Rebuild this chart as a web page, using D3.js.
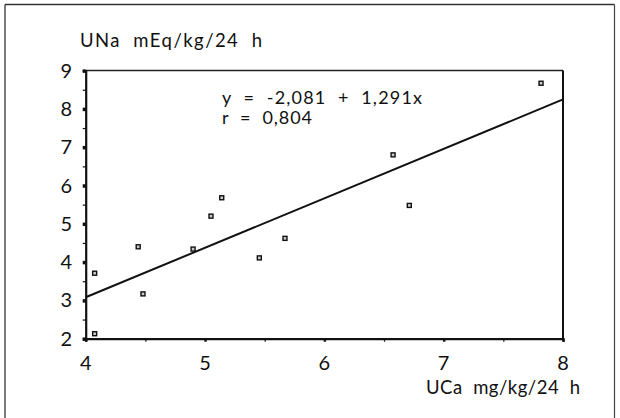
<!DOCTYPE html>
<html><head><meta charset="utf-8">
<script src="https://cdn.jsdelivr.net/npm/d3@7"></script>
<style>body{margin:0;background:#fff}svg{display:block}text{font-family:Lato,"Open Sans",sans-serif;fill:#111}</style>
</head><body><svg id="c" width="620" height="418"></svg>
<script>
const ucaValues = [4.075, 4.075, 4.44, 4.48, 4.90, 5.05, 5.14, 5.455, 5.67, 6.576, 6.712, 7.816];
const unaValues = [3.71, 2.13, 4.40, 3.17, 4.34, 5.20, 5.68, 4.11, 4.62, 6.80, 5.48, 8.67];
const xTicks = [4, 5, 6, 7, 8];
const yTicks = [2, 3, 4, 5, 6, 7, 8, 9];
const fitIntercept = -2.081, fitSlope = 1.291;
const eqLabel = "y = -2,081 + 1,291x", rLabel = "r = 0,804";
const yTitle = "UNa  mEq/kg/24  h", xTitle = "UCa  mg/kg/24  h";

const svg = d3.select("#c");
const x = d3.scaleLinear().domain([4, 8]).range([85.7, 563]);
const y = d3.scaleLinear().domain([2, 9]).range([338.7, 70.6]);

// outer frame
svg.append("line").attr("x1",5).attr("x2",5).attr("y1",4.5).attr("y2",418).attr("stroke","#333").attr("stroke-width",1.3);
svg.append("line").attr("x1",5).attr("x2",614.5).attr("y1",4.5).attr("y2",4.5).attr("stroke","#333").attr("stroke-width",1.3);
svg.append("line").attr("x1",614.5).attr("x2",614.5).attr("y1",4.5).attr("y2",418).attr("stroke","#444").attr("stroke-width",1.2);

// plot box
svg.append("line").attr("x1",x(4)).attr("x2",x(8)).attr("y1",y(9)).attr("y2",y(9)).attr("stroke","#222").attr("stroke-width",1.5);
svg.append("line").attr("x1",x(8)).attr("x2",x(8)).attr("y1",y(9)).attr("y2",y(2)).attr("stroke","#111").attr("stroke-width",2);

// axes
const xAxis = d3.axisBottom(x).tickValues(d3.range(4, 8.01, 0.5)).tickSize(3).tickFormat("");
const gx = svg.append("g").attr("transform",`translate(0,${y(2)})`).call(xAxis);
gx.select(".domain").attr("stroke","#111").attr("stroke-width",2.2);
gx.selectAll(".tick line").attr("stroke","#111").attr("stroke-width",d=>Number.isInteger(d)?2.5:1.2);
const yAxis = d3.axisLeft(y).tickValues(d3.range(2, 9.01, 0.5)).tickSize(3).tickFormat("");
const gy = svg.append("g").attr("transform",`translate(${x(4)},0)`).call(yAxis);
gy.select(".domain").attr("stroke","#111").attr("stroke-width",2.2);
gy.selectAll(".tick line").attr("stroke","#111").attr("stroke-width",d=>Number.isInteger(d)?3.5:1.2);

// tick labels
svg.selectAll(".xl").data(xTicks).enter().append("text").attr("class","xl")
  .attr("x",d=>x(d)).attr("y",369.5).attr("text-anchor","middle").attr("font-size",20).text(d=>d);
svg.selectAll(".yl").data(yTicks).enter().append("text").attr("class","yl")
  .attr("x",72).attr("y",d=>y(d)+7).attr("text-anchor","end").attr("font-size",20).text(d=>d);

// titles
function label(t, x0, y0, fs, len){
  svg.append("text").attr("x",x0).attr("y",y0).attr("font-size",fs).style("white-space","pre")
    .attr("textLength",len).attr("lengthAdjust","spacing").text(t);
}
label(yTitle, 80, 46.5, 18.5, 182);
label(xTitle, 426, 394, 18.5, 154);
label(eqLabel.replace(/ /g,"  "), 222, 103.5, 18, 200);
label(rLabel.replace(/ /g,"  "), 222, 124, 18, 90);

// regression line
svg.append("line").attr("x1",x(4)).attr("x2",x(8))
  .attr("y1",y(fitIntercept+fitSlope*4)).attr("y2",y(fitIntercept+fitSlope*8))
  .attr("stroke","#111").attr("stroke-width",2);

// points
svg.selectAll(".pt").data(ucaValues.map((v,i)=>[v,unaValues[i]])).enter().append("rect").attr("class","pt")
  .attr("x",d=>x(d[0])-2).attr("y",d=>y(d[1])-2).attr("width",4).attr("height",4)
  .attr("fill","#ccc").attr("stroke","#111").attr("stroke-width",1.4);
</script></body></html>
